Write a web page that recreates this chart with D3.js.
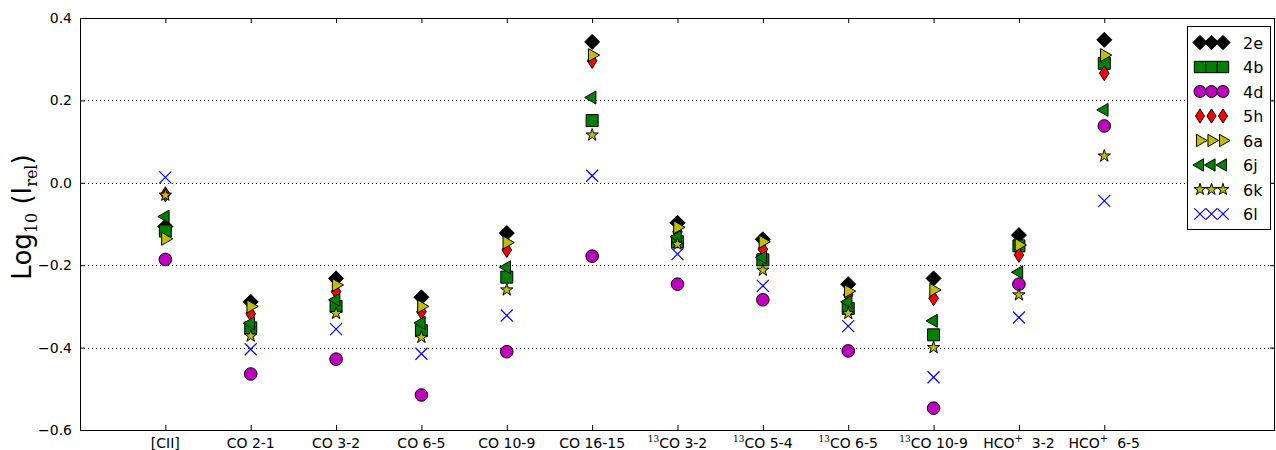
<!DOCTYPE html>
<html>
<head>
<meta charset="utf-8">
<script src="https://cdn.jsdelivr.net/npm/d3@7"></script>
<style>
  html, body { margin: 0; padding: 0; background: #fff; }
  svg { display: block; font-family: "DejaVu Sans", sans-serif; }
</style>
</head>
<body>
<svg id="chart" width="1276" height="450"></svg>
<script>
// Line transitions (x axis), each with optional isotope prefix / ion suffix
const categories = [
  { pre: "", base: "[CII]", sup: "", tail: "" },
  { pre: "", base: "CO 2-1", sup: "", tail: "" },
  { pre: "", base: "CO 3-2", sup: "", tail: "" },
  { pre: "", base: "CO 6-5", sup: "", tail: "" },
  { pre: "", base: "CO 10-9", sup: "", tail: "" },
  { pre: "", base: "CO 16-15", sup: "", tail: "" },
  { pre: "13", base: "CO 3-2", sup: "", tail: "" },
  { pre: "13", base: "CO 5-4", sup: "", tail: "" },
  { pre: "13", base: "CO 6-5", sup: "", tail: "" },
  { pre: "13", base: "CO 10-9", sup: "", tail: "" },
  { pre: "", base: "HCO", sup: "+", tail: "  3-2" },
  { pre: "", base: "HCO", sup: "+", tail: "  6-5" }
];

// log10 relative intensities per model
const s2e = [-0.106, -0.289, -0.232, -0.278, -0.122, 0.342, -0.097, -0.137, -0.246, -0.232, -0.127, 0.347];
const s4b = [-0.117, -0.352, -0.300, -0.359, -0.229, 0.151, -0.143, -0.187, -0.305, -0.369, -0.153, 0.290];
const s4d = [-0.186, -0.464, -0.428, -0.515, -0.410, -0.178, -0.246, -0.284, -0.408, -0.547, -0.246, 0.138];
const s5h = [-0.028, -0.318, -0.264, -0.313, -0.163, 0.296, -0.119, -0.161, -0.272, -0.280, -0.175, 0.266];
const s6a = [-0.136, -0.300, -0.248, -0.300, -0.145, 0.310, -0.108, -0.143, -0.263, -0.260, -0.151, 0.310];
const s6j = [-0.082, -0.341, -0.284, -0.340, -0.205, 0.207, -0.131, -0.181, -0.289, -0.335, -0.217, 0.177];
const s6k = [-0.030, -0.372, -0.317, -0.375, -0.260, 0.116, -0.149, -0.212, -0.317, -0.400, -0.272, 0.065];
const s6l = [0.013, -0.404, -0.355, -0.415, -0.322, 0.017, -0.173, -0.250, -0.348, -0.472, -0.327, -0.044];

const yTicks = [0.4, 0.2, 0.0, -0.2, -0.4, -0.6];
const gridTicks = [0.2, 0.0, -0.2, -0.4];

const series = [
  { name: "2e", values: s2e, shape: "diamond", fill: "#000000" },
  { name: "4b", values: s4b, shape: "square", fill: "#008000" },
  { name: "4d", values: s4d, shape: "circle", fill: "#bf00bf" },
  { name: "5h", values: s5h, shape: "thindiamond", fill: "#ff0000" },
  { name: "6a", values: s6a, shape: "triright", fill: "#bfbf00" },
  { name: "6j", values: s6j, shape: "trileft", fill: "#008000" },
  { name: "6k", values: s6k, shape: "star", fill: "#bfbf00" },
  { name: "6l", values: s6l, shape: "cross", fill: "#0000ff" }
];

const svg = d3.select("#chart");
const pLeft = 80, pRight = 1275, pTop = 18, pBottom = 430;

const x = d3.scaleLinear().domain([0, categories.length + 2]).range([pLeft, pRight]);
const y = d3.scaleLinear().domain([-0.6, 0.4]).range([pBottom, pTop]);

// Marker path generators (centered at 0,0), s = scale factor
function markerPath(shape, s) {
  const p = d3.path();
  if (shape === "diamond") {
    const r = 7.5 * s;
    p.moveTo(0, -r); p.lineTo(r, 0); p.lineTo(0, r); p.lineTo(-r, 0); p.closePath();
  } else if (shape === "thindiamond") {
    const rx = 4.8 * s, ry = 7.5 * s;
    p.moveTo(0, -ry); p.lineTo(rx, 0); p.lineTo(0, ry); p.lineTo(-rx, 0); p.closePath();
  } else if (shape === "square") {
    const h = 6 * s;
    p.rect(-h, -h, 2 * h, 2 * h);
  } else if (shape === "circle") {
    p.arc(0, 0, 6.3 * s, 0, 2 * Math.PI);
  } else if (shape === "triright") {
    const r = 7.5 * s;
    p.moveTo(r, 0); p.lineTo(-r / 2, -r * 0.866); p.lineTo(-r / 2, r * 0.866); p.closePath();
  } else if (shape === "trileft") {
    const r = 7.5 * s;
    p.moveTo(-r, 0); p.lineTo(r / 2, -r * 0.866); p.lineTo(r / 2, r * 0.866); p.closePath();
  } else if (shape === "star") {
    const ro = 6.5 * s, ri = ro * 0.381;
    for (let k = 0; k < 10; k++) {
      const a = -Math.PI / 2 + k * Math.PI / 5;
      const r = k % 2 === 0 ? ro : ri;
      const px = r * Math.cos(a), py = r * Math.sin(a);
      if (k === 0) p.moveTo(px, py); else p.lineTo(px, py);
    }
    p.closePath();
  } else if (shape === "cross") {
    const h = 6 * s;
    p.moveTo(-h, -h); p.lineTo(h, h); p.moveTo(-h, h); p.lineTo(h, -h);
  }
  return p.toString();
}

function drawMarker(g, shape, fill, cx, cy, s) {
  const path = g.append("path")
    .attr("d", markerPath(shape, s))
    .attr("transform", `translate(${cx},${cy})`);
  if (shape === "cross") {
    path.attr("fill", "none").attr("stroke", fill).attr("stroke-width", 1.2);
  } else {
    path.attr("fill", fill).attr("stroke", "#000").attr("stroke-width", 1)
      .attr("stroke-linejoin", "miter");
  }
}

// Dotted grid lines
svg.append("g").selectAll("line").data(gridTicks).join("line")
  .attr("x1", pLeft).attr("x2", pRight)
  .attr("y1", d => Math.round(y(d)) + 0.5).attr("y2", d => Math.round(y(d)) + 0.5)
  .attr("stroke", "#000").attr("stroke-width", 1)
  .attr("stroke-dasharray", "1,3");

// Axes with inward ticks
const idx = d3.range(1, categories.length + 1);
const yAxisL = d3.axisLeft(y).tickValues(yTicks).tickSize(-5).tickPadding(8)
  .tickFormat(d => d3.format(".1f")(d).replace("-", "\u2212"));
const gy = svg.append("g").attr("transform", `translate(${pLeft},0)`).call(yAxisL);
gy.select(".domain").remove();
gy.selectAll("text").attr("font-size", 14).attr("font-family", "DejaVu Sans, sans-serif").attr("fill", "#000");

const gyr = svg.append("g").attr("transform", `translate(${pRight},0)`)
  .call(d3.axisRight(y).tickValues(yTicks).tickSize(-5).tickFormat(""));
gyr.select(".domain").remove();

const gxt = svg.append("g").attr("transform", `translate(0,${pTop})`)
  .call(d3.axisTop(x).tickValues(idx).tickSize(-5).tickFormat(""));
gxt.select(".domain").remove();

const gxb = svg.append("g").attr("transform", `translate(0,${pBottom})`)
  .call(d3.axisBottom(x).tickValues(idx).tickSize(-5).tickFormat(""));
gxb.select(".domain").remove();

// Category labels with isotope / charge markup
const lab = svg.append("g").selectAll("text").data(categories).join("text")
  .attr("x", (d, i) => x(i + 1))
  .attr("y", pBottom + 18)
  .attr("text-anchor", "middle")
  .attr("font-size", 14)
  .attr("fill", "#000")
  .style("white-space", "pre");
lab.each(function(d) {
  const t = d3.select(this);
  if (d.pre) {
    t.append("tspan").text(d.pre).attr("font-family", "DejaVu Serif, serif")
      .attr("font-size", 9).attr("dy", -6);
    t.append("tspan").text(d.base).attr("dy", 6);
  } else {
    t.append("tspan").text(d.base);
  }
  if (d.sup) {
    t.append("tspan").text(d.sup).attr("font-size", 10).attr("dy", -6);
    t.append("tspan").text(d.tail).attr("dy", 6);
  }
});

// Frame
svg.append("rect")
  .attr("x", pLeft + 0.5).attr("y", pTop + 0.5)
  .attr("width", pRight - pLeft - 1).attr("height", pBottom - pTop)
  .attr("fill", "none").attr("stroke", "#000").attr("stroke-width", 1);

// Data markers, drawn in series order
const marks = svg.append("g");
series.forEach(s => {
  s.values.forEach((v, i) => drawMarker(marks, s.shape, s.fill, x(i + 1), y(v), 1));
});

// Y axis title
const yt = svg.append("text")
  .attr("transform", `translate(31,${(pTop + pBottom) / 2 - 7}) rotate(-90)`)
  .attr("text-anchor", "middle")
  .attr("font-size", 26).attr("fill", "#000")
  .style("white-space", "pre");
yt.append("tspan").text("Log");
yt.append("tspan").text("10").attr("font-family", "DejaVu Serif, serif").attr("font-size", 16).attr("dy", 6);
yt.append("tspan").text(" (I").attr("dy", -6);
yt.append("tspan").text("rel").attr("font-family", "DejaVu Serif, serif").attr("font-size", 16).attr("dy", 6);
yt.append("tspan").text(")").attr("dy", -6);

// Legend
const lg = svg.append("g");
lg.append("rect").attr("x", 1187.5).attr("y", 26.5).attr("width", 83).attr("height", 203)
  .attr("fill", "#fff").attr("stroke", "#000").attr("stroke-width", 1);
series.forEach((s, k) => {
  const ly = 42.5 + k * 24.5;
  [1200, 1211.5, 1223].forEach(mx => drawMarker(lg, s.shape, s.fill, mx, ly, 0.95));
  lg.append("text").attr("x", 1243).attr("y", ly + 6)
    .attr("font-size", 16).attr("fill", "#000").text(s.name);
});
</script>
</body>
</html>
